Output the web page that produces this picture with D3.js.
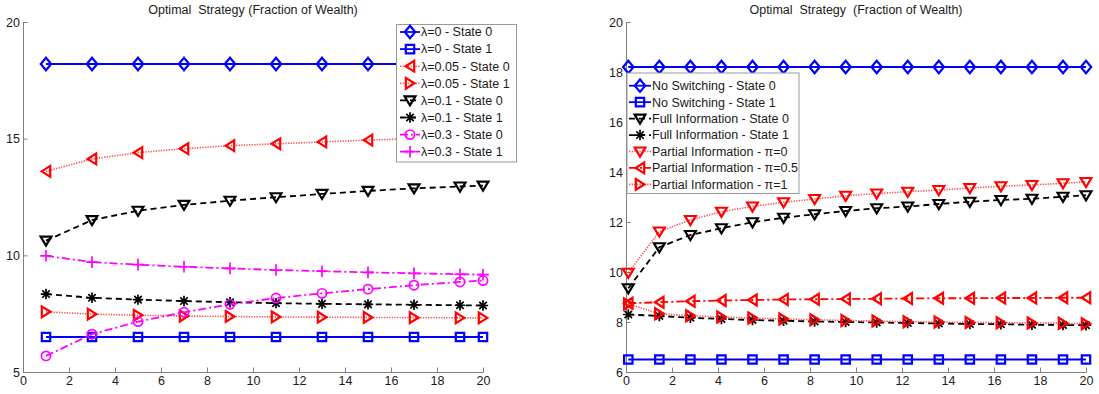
<!DOCTYPE html>
<html>
<head>
<meta charset="utf-8">
<script src="https://cdn.jsdelivr.net/npm/d3@7"></script>
<style>
  html, body { margin: 0; padding: 0; background: #fff; }
  svg { display: block; font-family: "Liberation Sans", Arial, Helvetica, sans-serif; }
</style>
</head>
<body>
<svg id="chart" width="1099" height="394"></svg>
<script>
// ---- Left panel: switching intensity λ ----
const xLeft = [1, 3, 5, 7, 9, 11, 13, 15, 17, 19, 20];
const lam0State0   = [18.2, 18.2, 18.2, 18.2, 18.2, 18.2, 18.2, 18.2, 18.2, 18.2, 18.2];
const lam0State1   = [6.5, 6.5, 6.5, 6.5, 6.5, 6.5, 6.5, 6.5, 6.5, 6.5, 6.5];
const lam005State0 = [13.6, 14.13, 14.4, 14.57, 14.7, 14.78, 14.86, 14.94, 15.0, 15.05, 15.08];
const lam005State1 = [7.58, 7.48, 7.43, 7.4, 7.38, 7.36, 7.35, 7.34, 7.33, 7.32, 7.32];
const lam01State0  = [10.63, 11.51, 11.91, 12.16, 12.34, 12.49, 12.63, 12.76, 12.87, 12.95, 12.99];
const lam01State1  = [8.34, 8.18, 8.1, 8.04, 7.99, 7.95, 7.92, 7.9, 7.88, 7.86, 7.85];
const lam03State0  = [5.69, 6.62, 7.16, 7.56, 7.9, 8.17, 8.37, 8.55, 8.72, 8.86, 8.92];
const lam03State1  = [9.98, 9.71, 9.6, 9.51, 9.44, 9.37, 9.32, 9.27, 9.23, 9.19, 9.17];
const leftXTicks = [0, 2, 4, 6, 8, 10, 12, 14, 16, 18, 20];
const leftYTicks = [5, 10, 15, 20];

// ---- Right panel: information regimes ----
const xRight = [0.1, 1.45, 2.8, 4.15, 5.5, 6.85, 8.2, 9.55, 10.9, 12.25, 13.6, 14.95, 16.3, 17.65, 19, 20];
const noSwitchState0 = [18.2, 18.2, 18.2, 18.2, 18.2, 18.2, 18.2, 18.2, 18.2, 18.2, 18.2, 18.2, 18.2, 18.2, 18.2, 18.2];
const noSwitchState1 = [6.5, 6.5, 6.5, 6.5, 6.5, 6.5, 6.5, 6.5, 6.5, 6.5, 6.5, 6.5, 6.5, 6.5, 6.5, 6.5];
const fullInfoState0 = [9.35, 10.99, 11.48, 11.75, 11.99, 12.17, 12.31, 12.44, 12.55, 12.62, 12.72, 12.81, 12.88, 12.93, 13.01, 13.07];
const fullInfoState1 = [8.3, 8.24, 8.17, 8.12, 8.08, 8.05, 8.02, 8.0, 7.98, 7.96, 7.94, 7.92, 7.91, 7.89, 7.88, 7.87];
const partialPi0     = [9.97, 11.62, 12.08, 12.41, 12.62, 12.79, 12.92, 13.05, 13.14, 13.21, 13.28, 13.36, 13.43, 13.48, 13.55, 13.6];
const partialPiHalf  = [8.75, 8.79, 8.83, 8.86, 8.88, 8.9, 8.91, 8.92, 8.93, 8.94, 8.95, 8.95, 8.96, 8.96, 8.97, 8.97];
const partialPi1     = [8.72, 8.33, 8.25, 8.2, 8.16, 8.12, 8.09, 8.06, 8.04, 8.01, 8.0, 7.98, 7.97, 7.96, 7.95, 7.93];
const rightXTicks = [0, 2, 4, 6, 8, 10, 12, 14, 16, 18, 20];
const rightYTicks = [6, 8, 10, 12, 14, 16, 18, 20];

const titleLeft  = "Optimal  Strategy (Fraction of Wealth)";
const titleRight = "Optimal  Strategy  (Fraction of Wealth)";

// ---- styles ----
const BLUE = "#0000ff", RED = "#ff0000", BLACK = "#000000", MAGENTA = "#ff00ff";
const DASH = { solid: null, dashed: "6,4", dotted: "1.3,1.3", dashdot: "8,3,2,3" };

// marker shapes as path strings centred on (0,0)
const MARKERS = {
  diamond:  "M0,-6.2L5.2,0L0,6.2L-5.2,0Z",
  square:   "M-4.2,-4.2H4.2V4.2H-4.2Z",
  triDown:  "M-5.4,-4H5.4L0,5Z",
  triLeft:  "M-4.4,0L4.2,-5.4V5.4Z",
  triRight: "M4.4,0L-4.2,-5.4V5.4Z",
  circle:   "M4.6,0A4.6,4.6 0 1,1 -4.6,0A4.6,4.6 0 1,1 4.6,0Z",
  plus:     "M-5.8,0H5.8M0,-5.8V5.8",
  star:     "M-5.2,0H5.2M0,-5.2V5.2M-3.7,-3.7L3.7,3.7M-3.7,3.7L3.7,-3.7"
};
const thinMarker = m => m === "plus" || m === "star" || m === "circle";

const svg = d3.select("#chart");
const AXIS_GRAY = "#808080";
const TEXT_COLOR = "#1a1a1a";
const FONT = 12.5;

function drawPanel(p) {
  const x = d3.scaleLinear().domain(p.xDomain).range(p.xRange);
  const y = d3.scaleLinear().domain(p.yDomain).range(p.yRange);
  const g = svg.append("g");

  // axes (box off: only left and bottom)
  const xAxis = g.append("g")
    .attr("transform", `translate(0,${p.yRange[0]})`)
    .call(d3.axisBottom(x).tickValues(p.xTicks).tickFormat(d3.format("d"))
      .tickSizeInner(-4.5).tickSizeOuter(0).tickPadding(4));
  const yAxis = g.append("g")
    .attr("transform", `translate(${p.xRange[0]},0)`)
    .call(d3.axisLeft(y).tickValues(p.yTicks).tickFormat(d3.format("d"))
      .tickSizeInner(-4.5).tickSizeOuter(0).tickPadding(3));
  [xAxis, yAxis].forEach(a => {
    a.select(".domain").attr("stroke", AXIS_GRAY).attr("stroke-width", 1);
    a.selectAll(".tick line").attr("stroke", AXIS_GRAY);
    a.selectAll(".tick text").attr("fill", TEXT_COLOR)
      .style("font-size", FONT + "px").style("font-family", "Liberation Sans, Arial, sans-serif");
  });

  // title
  g.append("text")
    .attr("x", (p.xRange[0] + p.xRange[1]) / 2)
    .attr("y", 14)
    .attr("text-anchor", "middle")
    .attr("fill", TEXT_COLOR)
    .style("font-size", FONT + "px")
    .style("white-space", "pre")
    .text(p.title);

  // series
  const line = d3.line().x(d => x(d[0])).y(d => y(d[1]));
  p.series.forEach(s => {
    const pts = p.xs.map((xv, i) => [xv, s.values[i]]);
    const sg = g.append("g");
    sg.append("path")
      .attr("d", line(pts))
      .attr("fill", "none")
      .attr("stroke", s.color)
      .attr("stroke-width", s.dash === "dotted" ? 1.6 : 1.8)
      .attr("stroke-opacity", s.dash === "dotted" ? 0.7 : 1)
      .attr("stroke-dasharray", DASH[s.dash]);
    sg.selectAll("path.mk")
      .data(pts)
      .join("path")
      .attr("class", "mk")
      .attr("d", MARKERS[s.marker])
      .attr("transform", d => `translate(${x(d[0])},${y(d[1])})`)
      .attr("fill", "none")
      .attr("stroke", s.color)
      .attr("stroke-width", thinMarker(s.marker) ? 1.7 : 2.2);
  });

  // legend
  const L = p.legend;
  const lg = g.append("g");
  lg.append("rect")
    .attr("x", L.x).attr("y", L.y)
    .attr("width", L.w).attr("height", L.h)
    .attr("fill", "#fff").attr("stroke", "#9a9a9a").attr("stroke-width", 1);
  p.series.forEach((s, i) => {
    const cy = L.firstRow + i * L.rowStep;
    lg.append("path")
      .attr("d", `M${L.lineX0},${cy}H${L.lineX1}`)
      .attr("stroke", s.color)
      .attr("stroke-width", s.dash === "dotted" ? 1.6 : 1.8)
      .attr("stroke-opacity", s.dash === "dotted" ? 0.7 : 1)
      .attr("stroke-dasharray", DASH[s.dash]);
    lg.append("path")
      .attr("d", MARKERS[s.marker])
      .attr("transform", `translate(${(L.lineX0 + L.lineX1) / 2},${cy})`)
      .attr("fill", "none")
      .attr("stroke", s.color)
      .attr("stroke-width", thinMarker(s.marker) ? 1.7 : 2.2);
    lg.append("text")
      .attr("x", L.textX).attr("y", cy)
      .attr("dy", "0.35em")
      .attr("fill", TEXT_COLOR)
      .style("font-size", FONT + "px")
      .text(s.name);
  });
}

drawPanel({
  xDomain: [0, 20], xRange: [23, 483],
  yDomain: [5, 20], yRange: [372, 22],
  xTicks: leftXTicks, yTicks: leftYTicks,
  title: titleLeft,
  xs: xLeft,
  series: [
    { name: "λ=0 - State 0",    values: lam0State0,   color: BLUE,    dash: "solid",   marker: "diamond" },
    { name: "λ=0 - State 1",    values: lam0State1,   color: BLUE,    dash: "solid",   marker: "square" },
    { name: "λ=0.05 - State 0", values: lam005State0, color: RED,     dash: "dotted",  marker: "triLeft" },
    { name: "λ=0.05 - State 1", values: lam005State1, color: RED,     dash: "dotted",  marker: "triRight" },
    { name: "λ=0.1 - State 0",  values: lam01State0,  color: BLACK,   dash: "dashed",  marker: "triDown" },
    { name: "λ=0.1 - State 1",  values: lam01State1,  color: BLACK,   dash: "dashed",  marker: "star" },
    { name: "λ=0.3 - State 0",  values: lam03State0,  color: MAGENTA, dash: "dashdot", marker: "circle" },
    { name: "λ=0.3 - State 1",  values: lam03State1,  color: MAGENTA, dash: "dashdot", marker: "plus" }
  ],
  legend: { x: 396.5, y: 24.5, w: 120, h: 137.5, firstRow: 32, rowStep: 17.1, lineX0: 400, lineX1: 420, textX: 421 }
});

drawPanel({
  xDomain: [0, 20], xRange: [626, 1086],
  yDomain: [6, 20], yRange: [372, 22],
  xTicks: rightXTicks, yTicks: rightYTicks,
  title: titleRight,
  xs: xRight,
  series: [
    { name: "No Switching - State 0",        values: noSwitchState0, color: BLUE,  dash: "solid",   marker: "diamond" },
    { name: "No Switching - State 1",        values: noSwitchState1, color: BLUE,  dash: "solid",   marker: "square" },
    { name: "Full Information - State 0",    values: fullInfoState0, color: BLACK, dash: "dashed",  marker: "triDown" },
    { name: "Full Information - State 1",    values: fullInfoState1, color: BLACK, dash: "dashed",  marker: "star" },
    { name: "Partial Information - π=0",     values: partialPi0,     color: RED,   dash: "dotted",  marker: "triDown" },
    { name: "Partial Information - π=0.5",   values: partialPiHalf,  color: RED,   dash: "dashdot", marker: "triLeft" },
    { name: "Partial Information - π=1",     values: partialPi1,     color: RED,   dash: "dotted",  marker: "triRight" }
  ],
  legend: { x: 627, y: 73, w: 172, h: 120.5, firstRow: 85.7, rowStep: 16.45, lineX0: 629, lineX1: 651, textX: 652 }
});
</script>
</body>
</html>
